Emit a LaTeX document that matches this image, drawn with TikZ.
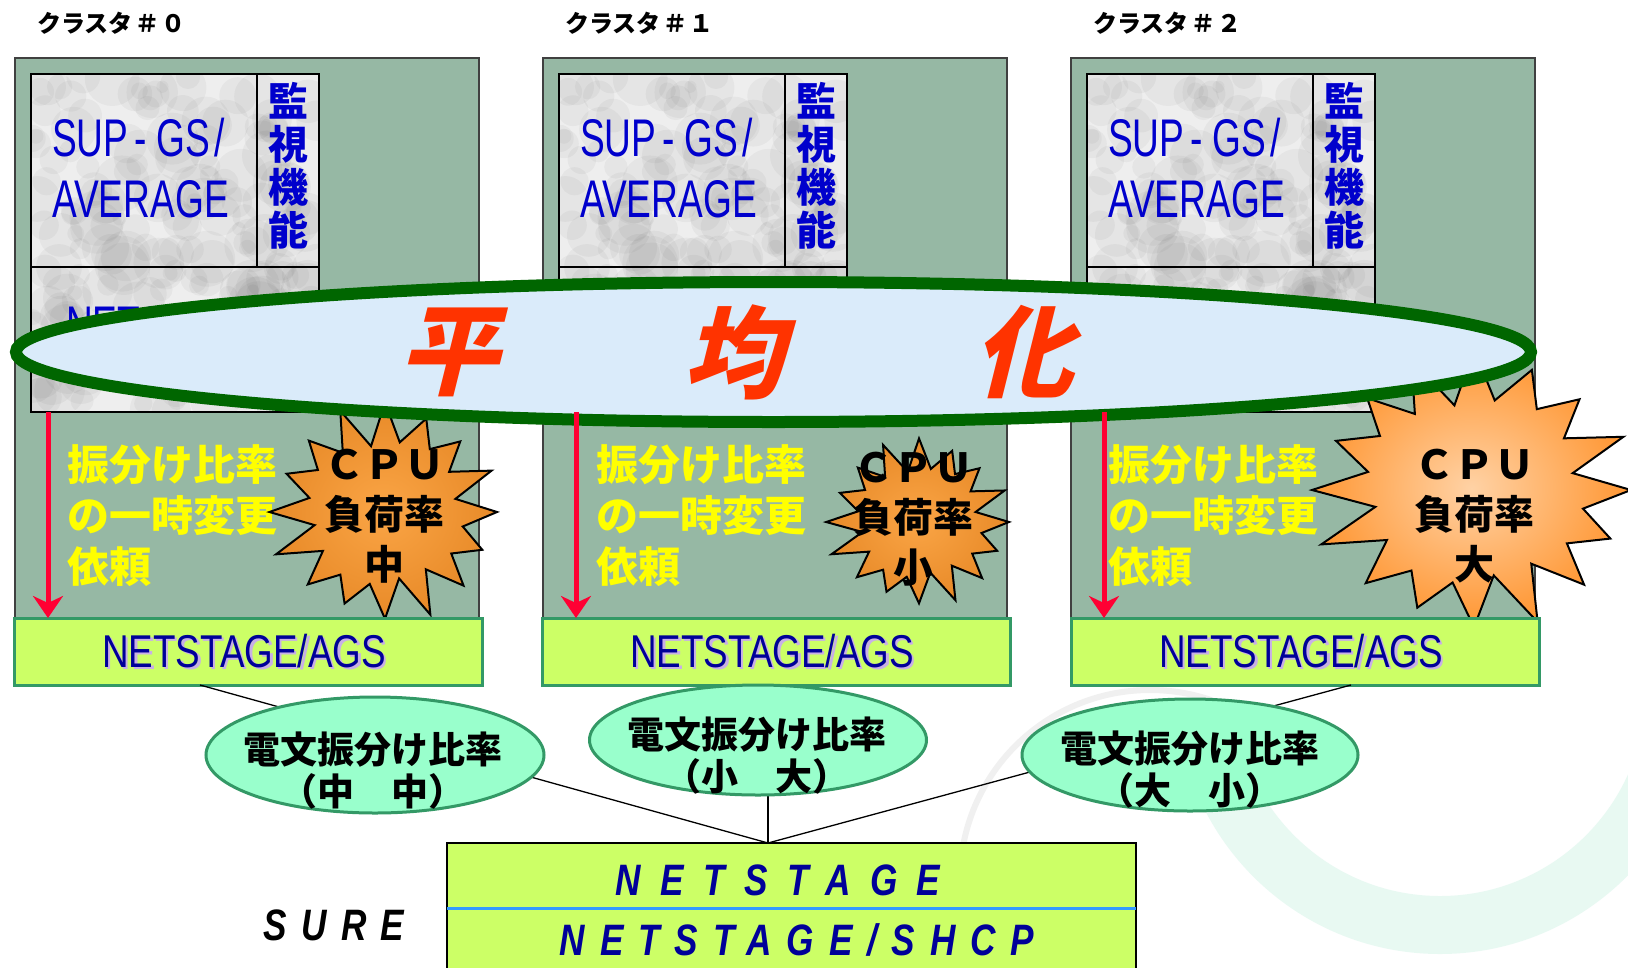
\documentclass[tikz,border=0pt]{standalone}
\usepackage{fontspec}
\setmainfont{Liberation Sans}
\newfontfamily\jp{Noto Sans CJK JP}
\usetikzlibrary{arrows.meta,shapes.geometric,calc}
\definecolor{clgreen}{RGB}{150,184,164}
\definecolor{agsfill}{RGB}{204,255,102}
\definecolor{agsline}{RGB}{51,153,102}
\definecolor{mintf}{RGB}{153,255,204}
\definecolor{bigfill}{RGB}{218,235,250}
\definecolor{biglin}{RGB}{0,102,0}
\definecolor{redarr}{RGB}{255,0,51}
\definecolor{supblue}{RGB}{0,0,204}
\definecolor{navy}{RGB}{0,0,153}
\definecolor{shadowc}{RGB}{200,175,230}
\definecolor{heikin}{RGB}{255,51,0}
\definecolor{divblue}{RGB}{51,153,255}
\definecolor{yel}{RGB}{255,255,0}
\definecolor{marble}{RGB}{238,238,238}
\definecolor{wmmint}{RGB}{205,242,228}
\definecolor{orA}{RGB}{250,165,70}
\definecolor{orB}{RGB}{232,138,40}
\definecolor{orC}{RGB}{255,210,165}
\definecolor{orD}{RGB}{255,150,50}
\newcommand\mystarburst[6]{%
  \shadedraw[inner color=#5, outer color=#6, draw=black, line width=2pt, line join=miter]
  ({#1+#3},{#2}) \foreach \k in {1,...,31}{ -- ({#1+#3*(1-0.32*mod(\k,2))*(1+0.06*sin(\k*137))*cos(\k*11.25)},{#2+#4*(1-0.32*mod(\k,2))*(1+0.06*sin(\k*137))*sin(\k*11.25)}) } -- cycle;}
\tikzset{
  clbox/.style={draw=black!75, line width=1.5pt, fill=clgreen, inner sep=0pt, outer sep=0pt, anchor=north west, minimum width=464pt, minimum height=582pt},
  mbox/.style={draw=black, line width=2.5pt, inner sep=0pt, outer sep=0pt, anchor=north west},
  agsbox/.style={draw=agsline, line width=3pt, fill=agsfill, inner sep=0pt, outer sep=0pt, anchor=north west, minimum width=468pt, minimum height=67pt},
  suptext/.style={text=supblue, font=\fontsize{53}{61}\selectfont, inner sep=0pt, align=left},
  montext/.style={text=supblue, font=\jp\bfseries\fontsize{40}{43}\selectfont, inner sep=0pt, align=center},
  yeltext/.style={text=yel, font=\jp\bfseries\fontsize{42}{51}\selectfont, inner sep=0pt, align=left, anchor=west},
  cputext/.style={text=black, font=\jp\bfseries\fontsize{40}{50}\selectfont, inner sep=0pt, align=center},
  agstext/.style={text=navy, font=\fontsize{46}{50}\selectfont, inner sep=0pt},
  agsshadow/.style={text=shadowc, font=\fontsize{46}{50}\selectfont, inner sep=0pt},
  redarrow/.style={draw=redarr, line width=5pt, -{Stealth[length=22pt,width=30pt,inset=7pt]}},
  heistyle/.style={text=heikin, font=\jp\bfseries\fontsize{100}{100}\selectfont, inner sep=0pt, xslant=0.25},
  sell/.style={ellipse, draw=agsline, line width=3pt, fill=mintf, inner sep=0pt},
  selltext/.style={text=black, font=\jp\bfseries\fontsize{37}{42}\selectfont, inner sep=0pt, align=center},
  conn/.style={draw=black, line width=1.3pt},
  surebox/.style={draw=black, line width=2pt, fill=agsfill, inner sep=0pt, outer sep=0pt, anchor=north west, minimum width=689pt, minimum height=140pt},
  suretext/.style={text=navy, font=\bfseries\itshape\fontsize{44}{48}\selectfont, inner sep=0pt},
  lab/.style={text=black, font=\jp\bfseries\fontsize{24}{26}\selectfont, inner sep=0pt, anchor=west}
}
\begin{document}
\begin{tikzpicture}[x=1pt,y=-1pt]
\useasboundingbox (0,0) rectangle (1628,967);
\fill[white] (0,0) rectangle (1628,967);
% faint watermark
\begin{scope}
  \clip (1150,760) rectangle (1628,967);
  \draw[wmmint, line width=58pt, opacity=0.45] (1440,690) circle[radius=235];
\end{scope}
\begin{scope}
  \clip (900,650) rectangle (1270,880);
  \draw[black!6, line width=6pt] (1150,880) circle[radius=190];
\end{scope}
% cluster labels
\node[lab] (lab0) at (37,23) {クラスタ\hspace{3pt}＃\hspace{2pt}０};
\node[lab] (lab1) at (565,23) {クラスタ\hspace{3pt}＃\hspace{2pt}１};
\node[lab] (lab2) at (1093,23) {クラスタ\hspace{3pt}＃\hspace{2pt}２};
% clusters
\foreach \i in {0,1,2}{
  \pgfmathsetmacro\o{528*\i}
  \node[clbox] (cl\i) at (15+\o,58) {};
  \begin{scope}
    \clip (31+\o,74) rectangle (319+\o,412);
    \fill[marble] (31+\o,74) rectangle (319+\o,412);
    \pgfmathsetseed{7}
    \foreach \j in {1,...,220}{
      \fill[black,opacity=0.035] ({31+\o+288*rnd},{74+338*rnd}) circle[radius={6+22*rnd}];
    }
  \end{scope}
  \node[mbox, minimum width=226pt, minimum height=193pt] (sup\i) at (31+\o,74) {};
  \node[mbox, minimum width=62pt, minimum height=193pt] (mon\i) at (257+\o,74) {};
  \node[mbox, minimum width=288pt, minimum height=145pt] (low\i) at (31+\o,267) {};
  \node[suptext, anchor=west] (supt\i) at (52+\o,168) {\scalebox{0.7}[1]{SUP\hspace{9pt}-\hspace{14pt}GS\hspace{5pt}/}\\\scalebox{0.7}[1]{AVERAGE}};
  \node[montext] (mont\i) at (288+\o,166) {監\\視\\機\\能};
  \coordinate (ra\i) at (48+\o,412);
}
\node[suptext, anchor=base west] (lowt0) at (66,343) {\scalebox{0.7}[1]{NETSTAGE}};
% yellow texts
\node[yeltext] (y0) at (67,516) {振分け比率\\の一時変更\\依頼};
\node[yeltext] (y1) at (596,516) {振分け比率\\の一時変更\\依頼};
\node[yeltext] (y2) at (1108,516) {振分け比率\\の一時変更\\依頼};
% starbursts
\mystarburst{385}{512}{112}{105}{orA}{orB}
\mystarburst{919}{522}{90}{80}{orA}{orB}
\mystarburst{1474}{490}{157}{135}{orC}{orD}
\node[cputext] (cpu0) at (384,516) {ＣＰＵ\\負荷率\\中};
\node[cputext] (cpu1) at (913,519) {ＣＰＵ\\負荷率\\小};
\node[cputext] (cpu2) at (1474,516) {ＣＰＵ\\負荷率\\大};
% big ellipse
\node[ellipse, draw=biglin, line width=12pt, fill=bigfill, minimum width=1515pt, minimum height=140pt, inner sep=0pt] (bigell) at (773.5,352) {};
\node[heistyle] (hei) at (457,352) {平};
\node[heistyle] (kin) at (743,352) {均};
\node[heistyle] (ka) at (1033,352) {化};
% AGS boxes
\foreach \i/\x in {0/14,1/542,2/1071}{
  \node[agsbox] (ags\i) at (\x,618) {};
  \node[agsshadow] (agss\i) at (\x+232.5,653.5) {\scalebox{0.8}[1]{NETSTAGE/AGS}};
  \node[agstext] (agst\i) at (\x+230,651) {\scalebox{0.8}[1]{NETSTAGE/AGS}};
  \draw[redarrow] (ra\i) -- (ra\i |- ags\i.north);
}
% SURE box
\node[surebox] (sure) at (447,843) {};
\coordinate (dl) at (447,908);
\coordinate (dr) at (1136,908);
\draw[divblue, line width=3pt] (dl) -- (dr);
\node[suretext] (ns1) at (778,880) {\scalebox{0.8}[1]{\addfontfeature{LetterSpace=55}NETSTAGE}};
\node[suretext] (ns2) at (797,940) {\scalebox{0.8}[1]{\addfontfeature{LetterSpace=42}NETSTAGE/SHCP}};
\node[suretext, text=black] (sur) at (334,925) {\scalebox{0.8}[1]{\addfontfeature{LetterSpace=40}SURE}};
% connectors
\coordinate (hub) at (768,843);
\coordinate (c0) at (200,685);
\coordinate (c1) at (768,685);
\coordinate (c2) at (1351,685);
\draw[conn] (c0) -- (hub);
\draw[conn] (c1) -- (hub);
\draw[conn] (c2) -- (hub);
% small ellipses
\node[sell, minimum width=338pt, minimum height=116pt] (e0) at (375,755) {};
\node[selltext] (et0) at (373,771) {電文振分け比率\\（中　中）};
\node[sell, minimum width=337pt, minimum height=110pt] (e1) at (758,740) {};
\node[selltext] (et1) at (757,756) {電文振分け比率\\（小　大）};
\node[sell, minimum width=336pt, minimum height=112pt] (e2) at (1190,755) {};
\node[selltext] (et2) at (1190,770) {電文振分け比率\\（大　小）};
\end{tikzpicture}
\end{document}
